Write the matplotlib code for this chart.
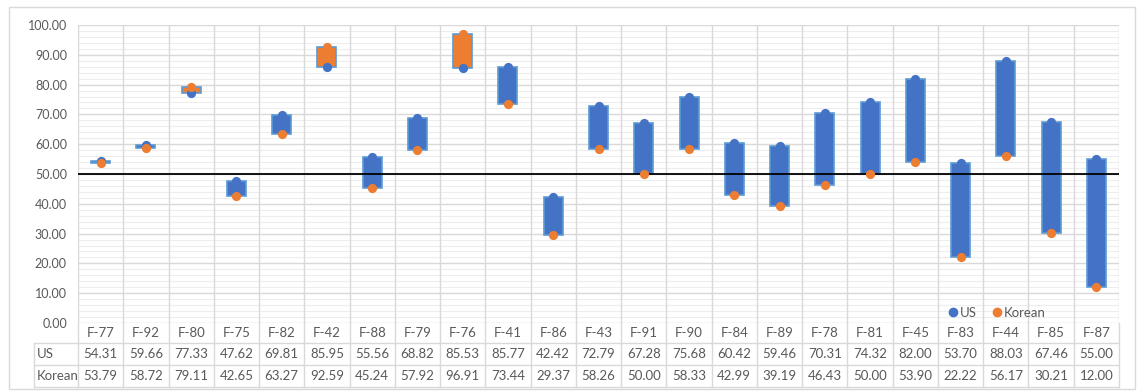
import matplotlib.pyplot as plt
from matplotlib.lines import Line2D
from matplotlib.patches import Rectangle
import numpy as np

categories = ["F-77", "F-92", "F-80", "F-75", "F-82", "F-42", "F-88", "F-79", "F-76", "F-41",
              "F-86", "F-43", "F-91", "F-90", "F-84", "F-89", "F-78", "F-81", "F-45", "F-83",
              "F-44", "F-85", "F-87"]
us = [54.31, 59.66, 77.33, 47.62, 69.81, 85.95, 55.56, 68.82, 85.53, 85.77,
      42.42, 72.79, 67.28, 75.68, 60.42, 59.46, 70.31, 74.32, 82.00, 53.70,
      88.03, 67.46, 55.00]
korean = [53.79, 58.72, 79.11, 42.65, 63.27, 92.59, 45.24, 57.92, 96.91, 73.44,
          29.37, 58.26, 50.00, 58.33, 42.99, 39.19, 46.43, 50.00, 53.90, 22.22,
          56.17, 30.21, 12.00]

BLUE = "#4472C4"
ORANGE = "#ED7D31"
EDGE = "#5B9BD5"
GRID = "#D9D9D9"
MINOR = "#EDEDED"
TEXT = "#595959"

plt.rcParams["font.family"] = ["Lato", "DejaVu Sans"]

W, H = 1137, 391
fig = plt.figure(figsize=(W / 100, H / 100), dpi=100)

# outer chart frame
fig.patches.append(Rectangle((9 / W, 1 - 389 / H), 1126 / W, 382 / H,
                             transform=fig.transFigure, fill=False,
                             edgecolor=GRID, linewidth=1))

left, right, top, bottom = 78, 1119, 25, 323
ax = fig.add_axes([left / W, 1 - bottom / H, (right - left) / W, (bottom - top) / H])

x = np.arange(len(categories))
us_a = np.array(us)
kr_a = np.array(korean)
lo = np.minimum(us_a, kr_a)
span = np.abs(us_a - kr_a)
fills = [BLUE if u >= k else ORANGE for u, k in zip(us_a, kr_a)]

ax.set_xlim(-0.5, len(categories) - 0.5)
ax.set_ylim(0, 100)

# gridlines: minor every 2, major every 10, column separators
for v in np.arange(0, 101, 2):
    ax.axhline(v, color=MINOR, linewidth=0.8, zorder=0)
for v in np.arange(0, 101, 10):
    ax.axhline(v, color=GRID, linewidth=1, zorder=0.5)
for b in np.arange(-0.5, len(categories), 1):
    ax.axvline(b, color=GRID, linewidth=1, zorder=0.5)

ax.bar(x, span, bottom=lo, width=0.42, color=fills, edgecolor=EDGE,
       linewidth=1.2, zorder=2)
ax.axhline(50, color="black", linewidth=1.3, zorder=3)
ax.scatter(x, us_a, s=44, color=BLUE, zorder=4, linewidths=0)
ax.scatter(x, kr_a, s=44, color=ORANGE, zorder=5, linewidths=0)

ax.set_yticks(np.arange(0, 101, 10))
ax.set_yticklabels([f"{v:.2f}" for v in np.arange(0, 101, 10)])
ax.tick_params(axis="y", length=0, pad=8, labelsize=9, labelcolor=TEXT)
ax.set_xticks([])
for s in ax.spines.values():
    s.set_visible(False)

handles = [Line2D([], [], marker="o", linestyle="", color=BLUE, markersize=6),
           Line2D([], [], marker="o", linestyle="", color=ORANGE, markersize=6)]
leg = ax.legend(handles, ["US", "Korean"], loc="center", bbox_to_anchor=(0.882, 0.035),
                ncol=2, frameon=False, fontsize=9.5, handletextpad=0.05,
                columnspacing=1.0, handlelength=1.0)
for t in leg.get_texts():
    t.set_color(TEXT)

# data table below the plot
trans = ax.get_xaxis_transform()
ph = (bottom - top)


def ay(py):
    return (bottom - py) / ph


def dx(px):
    return (px - left) / (right - left) * len(categories) - 0.5


for py in [343, 365, 387]:
    ax.plot([dx(34), len(categories) - 0.5], [ay(py)] * 2, transform=trans,
            color=GRID, linewidth=1, clip_on=False)
for b in np.arange(-0.5, len(categories), 1):
    ax.plot([b, b], [0, ay(387)], transform=trans, color=GRID, linewidth=1, clip_on=False)
ax.plot([dx(34), dx(34)], [ay(343), ay(387)], transform=trans, color=GRID,
        linewidth=1, clip_on=False)

for i, c in enumerate(categories):
    ax.text(i, ay(333), c, transform=trans, ha="center", va="center",
            fontsize=9.5, color=TEXT, clip_on=False)
    ax.text(i, ay(354), f"{us[i]:.2f}", transform=trans, ha="center", va="center",
            fontsize=9.5, color=TEXT, clip_on=False)
    ax.text(i, ay(376), f"{korean[i]:.2f}", transform=trans, ha="center", va="center",
            fontsize=9.5, color=TEXT, clip_on=False)

ax.text(dx(37), ay(354), "US", transform=trans, ha="left", va="center",
        fontsize=9.5, color=TEXT, clip_on=False)
ax.text(dx(37), ay(376), "Korean", transform=trans, ha="left", va="center",
        fontsize=9.5, color=TEXT, clip_on=False)

fig.savefig("out.png", dpi=100)
